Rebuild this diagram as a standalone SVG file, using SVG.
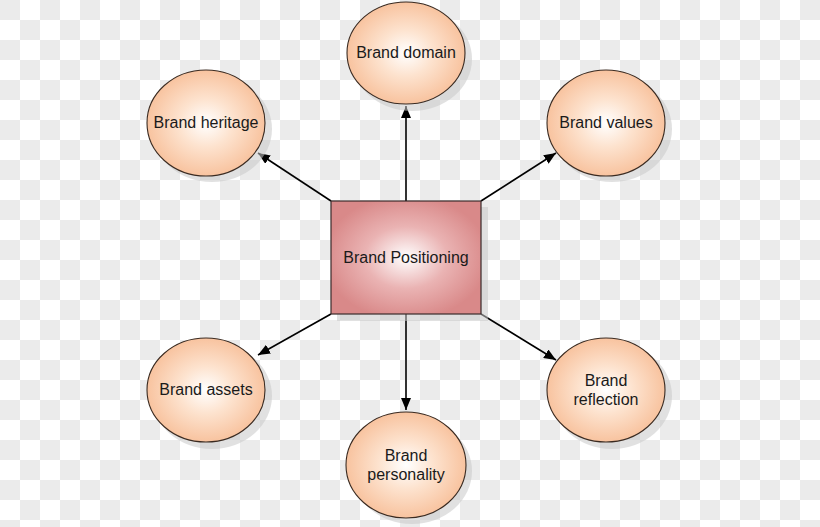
<svg xmlns="http://www.w3.org/2000/svg" width="820" height="527" viewBox="0 0 820 527">
<defs>
<radialGradient id="peach" cx="0.5" cy="0.5" r="0.5">
<stop offset="0" stop-color="#ffffff"/>
<stop offset="0.45" stop-color="#fde3cf"/>
<stop offset="1" stop-color="#f8c39f"/>
</radialGradient>
<radialGradient id="rose" cx="0.5" cy="0.5" r="0.55">
<stop offset="0" stop-color="#ffffff"/>
<stop offset="0.5" stop-color="#eab3b3"/>
<stop offset="1" stop-color="#d98989"/>
</radialGradient>
<marker id="arrow" viewBox="0 0 12 10" refX="12" refY="5" markerWidth="12" markerHeight="10" markerUnits="userSpaceOnUse" orient="auto">
<path d="M0,0 L12,5 L0,10 z" fill="#000"/>
</marker>
</defs>
<style>
.bg{stroke:#ebebeb;stroke-width:20;stroke-dasharray:20 20;fill:none}
.shadow{fill:#c8c8c8;opacity:0.55}
.node{fill:url(#peach);stroke:#3a2a20;stroke-width:1.1}
.center{fill:url(#rose);stroke:#3a2a2a;stroke-width:1.2}
.label{font-family:"Liberation Sans",Arial,sans-serif;font-size:16px;fill:#1a1a1a;text-anchor:middle}
.conn{stroke:#000;stroke-width:1.6;fill:none;marker-end:url(#arrow)}
</style>
<rect width="820" height="527" fill="#ffffff"/>
<path class="bg" d="M0,10H840M0,50H840M0,90H840M0,130H840M0,170H840M0,210H840M0,250H840M0,290H840M0,330H840M0,370H840M0,410H840M0,450H840M0,490H840M0,530H840"/>
<path class="bg" d="M20,30H840M20,70H840M20,110H840M20,150H840M20,190H840M20,230H840M20,270H840M20,310H840M20,350H840M20,390H840M20,430H840M20,470H840M20,510H840"/>

<g id="connectors">
<line class="conn" x1="406" y1="201" x2="406" y2="106"/>
<line class="conn" x1="331" y1="201" x2="258" y2="153"/>
<line class="conn" x1="481" y1="201" x2="556" y2="153"/>
<line class="conn" x1="331" y1="314" x2="258" y2="355"/>
<line class="conn" x1="481" y1="314" x2="556" y2="360"/>
<line class="conn" x1="406" y1="314" x2="406" y2="410"/>
</g>

<g id="brand-positioning">
<rect class="shadow" x="337" y="207" width="151" height="114"/>
<rect class="center" x="331" y="201" width="150" height="113"/>
<text class="label" x="406" y="263">Brand Positioning</text>
</g>

<g id="brand-domain">
<ellipse class="shadow" cx="412" cy="59" rx="60" ry="52"/>
<ellipse class="node" cx="406" cy="53" rx="59" ry="51"/>
<text class="label" x="406" y="58">Brand domain</text>
</g>

<g id="brand-heritage">
<ellipse class="shadow" cx="212" cy="129" rx="60" ry="53"/>
<ellipse class="node" cx="206" cy="123" rx="59" ry="53"/>
<text class="label" x="206" y="128">Brand heritage</text>
</g>

<g id="brand-values">
<ellipse class="shadow" cx="612" cy="129" rx="60" ry="53"/>
<ellipse class="node" cx="606" cy="123" rx="59" ry="53"/>
<text class="label" x="606" y="128">Brand values</text>
</g>

<g id="brand-assets">
<ellipse class="shadow" cx="212" cy="396" rx="60" ry="53"/>
<ellipse class="node" cx="206" cy="390" rx="59" ry="52"/>
<text class="label" x="206" y="395">Brand assets</text>
</g>

<g id="brand-reflection">
<ellipse class="shadow" cx="612" cy="396" rx="60" ry="53"/>
<ellipse class="node" cx="606" cy="390" rx="59" ry="52"/>
<text class="label" x="606" y="386">Brand</text>
<text class="label" x="606" y="405">reflection</text>
</g>

<g id="brand-personality">
<ellipse class="shadow" cx="412" cy="471" rx="60" ry="53"/>
<ellipse class="node" cx="406" cy="465" rx="60" ry="53"/>
<text class="label" x="406" y="461">Brand</text>
<text class="label" x="406" y="480">personality</text>
</g>
</svg>
